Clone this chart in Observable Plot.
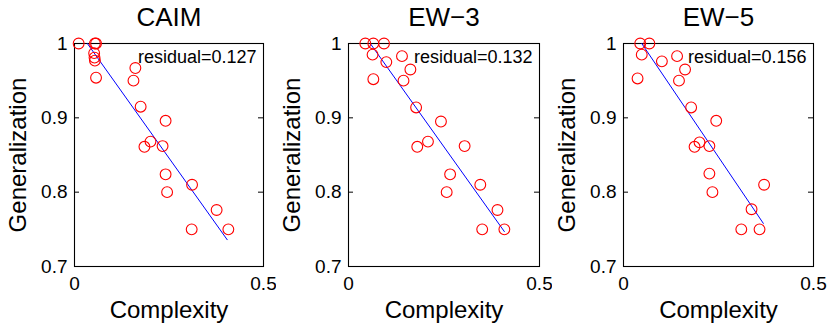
<!DOCTYPE html>
<html>
<head>
<meta charset="utf-8">
<script src="https://cdn.jsdelivr.net/npm/d3@7"></script>
<script src="https://cdn.jsdelivr.net/npm/@observablehq/plot@0.6"></script>
<style>
  html, body { margin: 0; padding: 0; background: #fff; }
  #wrap { position: relative; width: 830px; height: 326px; overflow: hidden; }
  .panel { position: absolute; top: 0; }
</style>
</head>
<body>
<div id="wrap"></div>
<script>
// ---- data ----
const titles = ["CAIM", "EW\u22123", "EW\u22125"];
const residualLabels = ["residual=0.127", "residual=0.132", "residual=0.156"];
const xTicks = [0, 0.5];
const yTicks = [0.7, 0.8, 0.9, 1];
const xLabel = "Complexity";
const yLabel = "Generalization";

const caimComplexity = [0.011, 0.054, 0.057, 0.052, 0.053, 0.054, 0.057, 0.161, 0.156, 0.175, 0.241, 0.201, 0.185, 0.233, 0.241, 0.245, 0.311, 0.376, 0.310, 0.407];
const caimGeneralization = [1.0, 1.0, 1.0, 0.987, 0.981, 0.977, 0.954, 0.967, 0.950, 0.915, 0.896, 0.868, 0.861, 0.862, 0.824, 0.800, 0.810, 0.776, 0.750, 0.750];
const caimFitX = [0.034, 0.404];
const caimFitY = [1.0, 0.736];

const ew3Complexity = [0.044, 0.065, 0.093, 0.063, 0.099, 0.140, 0.162, 0.065, 0.144, 0.177, 0.242, 0.208, 0.180, 0.304, 0.266, 0.257, 0.345, 0.390, 0.350, 0.408];
const ew3Generalization = [1.0, 1.0, 1.0, 0.985, 0.975, 0.983, 0.965, 0.952, 0.950, 0.914, 0.895, 0.868, 0.861, 0.862, 0.824, 0.800, 0.810, 0.776, 0.750, 0.750];
const ew3FitX = [0.057, 0.408];
const ew3FitY = [1.0, 0.747];

const ew5Complexity = [0.044, 0.068, 0.048, 0.101, 0.141, 0.162, 0.037, 0.146, 0.178, 0.244, 0.200, 0.187, 0.226, 0.226, 0.234, 0.370, 0.337, 0.310, 0.358];
const ew5Generalization = [1.0, 1.0, 0.985, 0.976, 0.983, 0.965, 0.953, 0.950, 0.914, 0.896, 0.867, 0.861, 0.862, 0.825, 0.800, 0.810, 0.777, 0.750, 0.750];
const ew5FitX = [0.048, 0.368];
const ew5FitY = [1.0, 0.758];

// ---- layout ----
const panels = [
  {title: titles[0], res: residualLabels[0], xs: caimComplexity, ys: caimGeneralization, fx: caimFitX, fy: caimFitY,
   left: 0, width: 276, marginLeft: 74, marginRight: 13},
  {title: titles[1], res: residualLabels[1], xs: ew3Complexity, ys: ew3Generalization, fx: ew3FitX, fy: ew3FitY,
   left: 276, width: 276, marginLeft: 72, marginRight: 13},
  {title: titles[2], res: residualLabels[2], xs: ew5Complexity, ys: ew5Generalization, fx: ew5FitX, fy: ew5FitY,
   left: 552, width: 278, marginLeft: 71, marginRight: 17}
];

const FONT = "'Liberation Sans', Arial, Helvetica, sans-serif";
const H = 326, MT = 43, MB = 60;
const wrap = document.getElementById("wrap");

for (const p of panels) {
  const pts = p.xs.map((x, i) => ({x, y: p.ys[i]}));
  const fit = p.fx.map((x, i) => ({x, y: p.fy[i]}));
  const innerW = p.width - p.marginLeft - p.marginRight;
  const chart = Plot.plot({
    width: p.width,
    height: H,
    marginLeft: p.marginLeft,
    marginRight: p.marginRight,
    marginTop: MT,
    marginBottom: MB,
    style: {fontFamily: FONT, fontSize: "19px", background: "white", overflow: "visible", color: "black"},
    x: {domain: [0, 0.5], axis: null},
    y: {domain: [0.7, 1], axis: null},
    marks: [
      Plot.frame({stroke: "black", strokeWidth: 1.1}),
      // inward ticks (left and right)
      Plot.tickY(yTicks, {y: d => d, stroke: "black", insetRight: innerW - 5}),
      Plot.tickY(yTicks, {y: d => d, stroke: "black", insetLeft: innerW - 5}),
      Plot.axisY({ticks: yTicks, tickSize: 0, tickPadding: 7, tickFormat: d => String(d), fontSize: 19, label: null}),
      Plot.axisX({ticks: xTicks, tickSize: 0, tickPadding: 10, tickFormat: d => String(d), fontSize: 19, label: null}),
      Plot.line(fit, {x: "x", y: "y", stroke: "#0000ff", strokeWidth: 1}),
      Plot.dot(pts, {x: "x", y: "y", r: 5.4, stroke: "#ff0000", fill: "none", strokeWidth: 1.1}),
      Plot.text([p.res], {text: d => d, frameAnchor: "top-right", textAnchor: "end", lineAnchor: "bottom",
        dx: -7, dy: 19, fontSize: 18, fill: "black"}),
      Plot.text([p.title], {text: d => d, frameAnchor: "top", textAnchor: "middle", lineAnchor: "bottom",
        dy: -18, fontSize: 26, fill: "black"}),
      Plot.text([xLabel], {text: d => d, frameAnchor: "bottom", textAnchor: "middle", lineAnchor: "bottom",
        dy: 51, fontSize: 24, fill: "black"}),
      Plot.text([yLabel], {text: d => d, frameAnchor: "left", textAnchor: "middle", lineAnchor: "bottom",
        rotate: -90, dx: -49, fontSize: 24, fill: "black"})
    ]
  });
  const div = document.createElement("div");
  div.className = "panel";
  div.style.left = p.left + "px";
  div.appendChild(chart);
  wrap.appendChild(div);
}
</script>
</body>
</html>
